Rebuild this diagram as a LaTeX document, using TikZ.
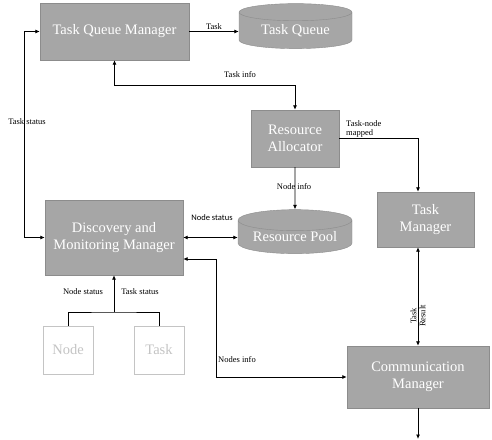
\documentclass[tikz,border=0pt]{standalone}
\usepackage{fontspec}
\setmainfont{Liberation Serif}
\newfontfamily\calibri{Carlito}
\usetikzlibrary{arrows.meta,shapes.geometric,calc}
\definecolor{boxgray}{HTML}{A6A6A6}
\definecolor{boxedge}{HTML}{8C8C8C}
\definecolor{litegray}{HTML}{C4C4C4}
\tikzset{
 box/.style={draw=boxedge,fill=boxgray,text=white,align=center,inner sep=0pt,
             font=\fontsize{14.5}{17}\selectfont},
 drum/.style={cylinder,shape border rotate=90,aspect=0.25,draw=boxedge,fill=boxgray,
             text=white,inner sep=0pt,font=\fontsize{14.5}{17}\selectfont},
 leaf/.style={draw=litegray,fill=white,text=litegray,inner sep=0pt,
             minimum width=50pt,minimum height=48pt,font=\fontsize{14.5}{17}\selectfont},
 arrow/.style={-{Latex[length=4.5pt,width=4pt]},line width=0.85pt},
 dbl/.style={{Latex[length=4.5pt,width=4pt]}-{Latex[length=4.5pt,width=4pt]},line width=0.85pt},
 lbl/.style={inner sep=1pt,font=\fontsize{8.5}{9}\selectfont}
}
\begin{document}
\begin{tikzpicture}[x=1pt,y=-1pt]
\useasboundingbox (0,0) rectangle (492,439);
% boxes
\node[box,minimum width=149pt,minimum height=57pt] (tqm) at (114.5,31.5) {Task Queue Manager};
\node[drum,minimum width=113pt,minimum height=45pt] (queue) at (295.5,30.5) {\raisebox{-4pt}{Task Queue}};
\node[box,minimum width=88pt,minimum height=57pt] (alloc) at (295,138.5) {Resource\\Allocator};
\node[drum,minimum width=114pt,minimum height=44pt] (pool) at (295,237) {\raisebox{-4pt}{Resource Pool}};
\node[box,minimum width=138pt,minimum height=75pt] (dmm) at (114,237.5) {Discovery and\\Monitoring Manager};
\node[box,minimum width=97pt,minimum height=55pt] (tm) at (425.5,219.5) {Task\\Manager};
\node[box,minimum width=142pt,minimum height=62pt] (comm) at (418,377) {Communication\\Manager};
\node[leaf] (node) at (68,350) {Node};
\node[leaf] (task) at (159,350) {Task};
\coordinate (join) at (114,312);
\coordinate (out) at (418,439);
% connectors
\draw[arrow] (tqm.east) -- (tqm.east -| queue.west) node[lbl,midway,above] {Task};
\draw[dbl] (tqm.south) -- ++(0,25) -| (alloc.north);
\draw[dbl] (tqm.west) -- ++(-15,0) |- (dmm.west);
\draw[arrow] (alloc.south) -- (pool.north);
\draw[arrow] (alloc.east) -| (comm.north |- tm.north);
\draw[dbl] (dmm.east) -- (dmm.east -| pool.west);
\draw[dbl] ($(dmm.east)+(0,21.5)$) -- ++(33,0) |- (comm.west);
\draw[dbl] (comm.north |- tm.south) -- (comm.north);
\draw[arrow] (comm.south) -- (out);
\draw[arrow] (join) -- (dmm.south);
\draw[line width=0.85pt] (node.north) |- (join) -| (task.north);
% labels
\node[lbl] (l1) at (240,75) {Task info};
\node[lbl] (l2) at (27,122) {Task status};
\node[lbl,anchor=north west,align=left] (l3) at (345,119) {Task-node\\mapped};
\node[lbl] (l4) at (294,187) {Node info};
\node[lbl,font=\calibri\fontsize{8.5}{9}\selectfont] (l5) at (212,218) {Node status};
\node[lbl] (l6) at (237,360) {Nodes info};
\node[lbl,rotate=90,align=center] (l7) at (418,316) {Task\\Result};
\node[lbl] (l8) at (83,292) {Node status};
\node[lbl] (l9) at (140,292) {Task status};
\end{tikzpicture}
\end{document}
